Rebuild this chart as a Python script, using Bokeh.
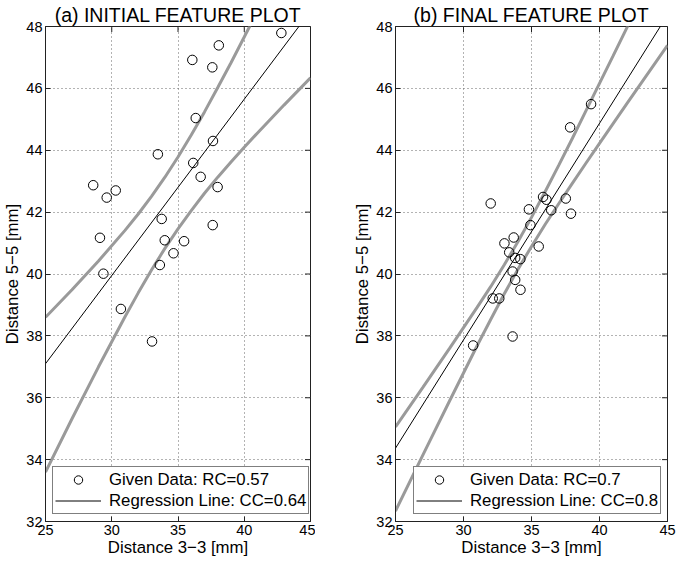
import math
from bokeh.plotting import figure
from bokeh.models import Range1d, FixedTicker, Legend, LegendItem
from bokeh.layouts import row
from bokeh.embed import file_html
from bokeh.resources import INLINE

FONT = "Liberation Sans"

# ---------------- data ----------------
x_ticks = [25, 30, 35, 40, 45]
y_ticks = [32, 34, 36, 38, 40, 42, 44, 46, 48]

# (a) initial feature plot
a_x = [42.80, 38.08, 36.08, 37.59, 36.34, 37.64, 33.48, 36.15, 36.71, 28.60, 30.30, 29.62,
       37.99, 33.77, 37.62, 29.11, 34.00, 35.46, 34.66, 33.63, 29.37, 30.69, 33.04]
a_y = [47.79, 47.39, 46.92, 46.68, 45.04, 44.30, 43.87, 43.59, 43.14, 42.87, 42.70, 42.47,
       42.81, 41.78, 41.58, 41.17, 41.09, 41.06, 40.67, 40.29, 40.01, 38.87, 37.82]
a_line_x = [25, 45]
a_line_y = [37.10, 48.50]
a_up_x = [25, 27, 29, 31, 32, 33, 34, 35, 36, 37, 38, 39, 40, 41]
a_up_y = [38.60, 39.49, 40.42, 41.41, 41.94, 42.51, 43.12, 43.78, 44.49, 45.24, 46.03, 46.83, 47.66, 48.50]
a_lo_x = [25, 27, 29, 31, 32, 33, 34, 35, 36, 37, 38, 39, 40, 41, 43, 45]
a_lo_y = [33.60, 35.32, 37.00, 38.62, 39.39, 40.13, 40.82, 41.46, 42.05, 42.61, 43.13, 43.62,
          44.10, 44.56, 45.46, 46.34]

# (b) final feature plot
b_x = [39.38, 37.84, 32.00, 35.85, 36.10, 37.52, 34.81, 36.45, 37.90, 34.92, 33.69, 33.01,
       35.53, 33.36, 33.80, 34.18, 33.61, 33.80, 34.19, 32.15, 32.63, 33.61, 30.71]
b_y = [45.49, 44.74, 42.28, 42.49, 42.40, 42.44, 42.09, 42.06, 41.95, 41.58, 41.18, 40.99,
       40.89, 40.70, 40.52, 40.48, 40.08, 39.81, 39.49, 39.21, 39.21, 37.98, 37.69]
b_line_x = [25, 45]
b_line_y = [34.37, 48.37]
b_up_x = [25, 27, 29, 31, 32, 33, 34, 35, 36, 37, 38, 39, 40, 41, 42, 43]
b_up_y = [35.06, 36.33, 37.61, 38.92, 39.59, 40.30, 41.04, 41.83, 42.66, 43.51, 44.38, 45.27,
          46.16, 47.05, 47.95, 48.85]
b_lo_x = [25, 27, 29, 31, 32, 33, 34, 35, 36, 37, 38, 39, 40, 41, 42, 43, 44, 45]
b_lo_y = [32.34, 34.14, 35.92, 37.68, 38.53, 39.36, 40.15, 40.89, 41.60, 42.27, 42.93, 43.58,
          44.22, 44.86, 45.50, 46.13, 46.76, 47.39]

titles = ["(a) INITIAL FEATURE PLOT", "(b) FINAL FEATURE PLOT"]
data_labels = ["Given Data: RC=0.57", "Given Data: RC=0.7"]
line_labels = ["Regression Line: CC=0.64", "Regression Line: CC=0.8"]
x_label = "Distance 3\u22123 [mm]"
y_label = "Distance 5\u22125 [mm]"

BAND = "#9a9a9a"
AXC = "#222222"
LABEL_SIZE = "16.8px"


def style_axis(ax, standoff, label_standoff):
    ax.major_tick_in = 5
    ax.major_tick_out = 0
    ax.minor_tick_line_color = None
    ax.axis_line_color = AXC
    ax.major_tick_line_color = AXC
    ax.major_label_text_font = FONT
    ax.major_label_text_color = "black"
    ax.major_label_text_font_size = "14.5px"
    ax.major_label_text_line_height = 1.0
    ax.major_label_standoff = standoff
    ax.axis_label_text_font = FONT
    ax.axis_label_text_font_size = LABEL_SIZE
    ax.axis_label_text_font_style = "normal"
    ax.axis_label_text_color = "black"
    ax.axis_label_text_line_height = 1.0
    ax.axis_label_standoff = label_standoff


def make(i, width, bl, br, xs, ys, lx, ly, ux, uy, dx, dy, leg_loc):
    p = figure(width=width, height=559, x_range=Range1d(25, 45), y_range=Range1d(32, 48),
               output_backend="svg", toolbar_location=None,
               min_border_left=bl, min_border_right=br, min_border_top=21, min_border_bottom=36,
               background_fill_color="white", border_fill_color="white")
    p.outline_line_color = AXC
    p.title.text = titles[i]
    p.title.align = "center"
    p.title.text_font = FONT
    p.title.text_font_size = "19.5px"
    p.title.text_font_style = "normal"
    p.title.text_color = "black"
    p.title.standoff = 2

    p.xaxis.ticker = FixedTicker(ticks=x_ticks)
    p.yaxis.ticker = FixedTicker(ticks=y_ticks)
    p.xaxis.axis_label = x_label
    p.yaxis.axis_label = y_label
    for ax in p.xaxis:
        style_axis(ax, 3, 0)
    for ax in p.yaxis:
        style_axis(ax, 3, 1)

    p.xgrid.ticker = FixedTicker(ticks=x_ticks)
    p.ygrid.ticker = FixedTicker(ticks=y_ticks)
    for g in (p.xgrid, p.ygrid):
        g.grid_line_color = "#666666"
        g.grid_line_dash = "1 3"
        g.grid_line_width = 1

    # inward tick marks on the top and right edges (half of each dash is clipped by the frame)
    p.scatter(x_ticks, [y_ticks[-1]] * len(x_ticks), marker="dash", size=11, angle=math.pi / 2,
              line_color=AXC, line_width=1)
    p.scatter([x_ticks[-1]] * len(y_ticks), y_ticks, marker="dash", size=11,
              line_color=AXC, line_width=1)

    p.line(ux, uy, line_color=BAND, line_width=3)
    p.line(dx, dy, line_color=BAND, line_width=3)
    ln = p.line(lx, ly, line_color="black", line_width=1)
    sc = p.scatter(xs, ys, marker="circle", size=9.5, fill_color=None, line_color="black", line_width=1)

    legend = Legend(items=[LegendItem(label=data_labels[i], renderers=[sc]),
                           LegendItem(label=line_labels[i], renderers=[ln])],
                    location=leg_loc, margin=7, padding=2, spacing=0,
                    glyph_width=46, glyph_height=21, label_height=21, label_standoff=8,
                    label_text_font=FONT, label_text_font_size=LABEL_SIZE, label_text_color="black",
                    border_line_color="black", border_line_width=1,
                    background_fill_color="white", background_fill_alpha=1)
    p.add_layout(legend)
    return p


p1 = make(0, 315, 36, 5, a_x, a_y, a_line_x, a_line_y, a_up_x, a_up_y, a_lo_x, a_lo_y, "bottom_left")
p2 = make(1, 362, 80, 10, b_x, b_y, b_line_x, b_line_y, b_up_x, b_up_y, b_lo_x, b_lo_y, (18, 7))

layout = row(p1, p2)
open("out.html", "w").write(file_html(layout, INLINE))
